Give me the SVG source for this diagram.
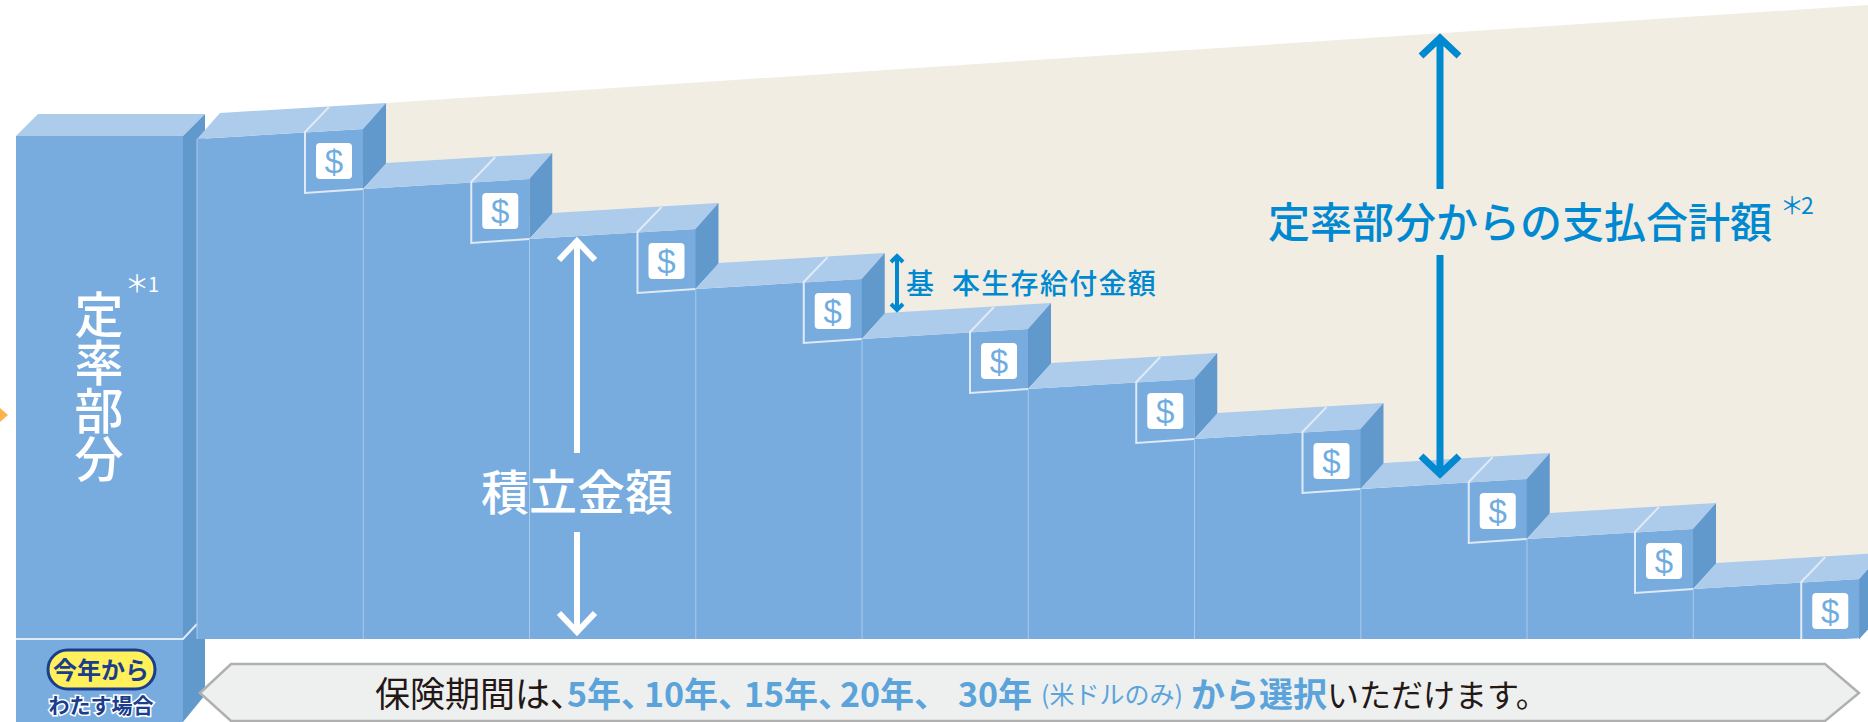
<svg xmlns="http://www.w3.org/2000/svg" width="1868" height="722" viewBox="0 0 1868 722">
<style>
.front{fill:#78acdf}.top{fill:#adcbeb}.side{fill:#6299cc}
.sep{stroke:#a9c9ea;stroke-width:1;fill:none}
.edge{stroke:#dfeaf6;stroke-width:2;fill:none}
.ico{fill:#fff}
.dollar{font-family:"Liberation Sans",sans-serif;font-size:33px;fill:#6fade0;text-anchor:middle}
.jp{font-family:"Noto Sans CJK JP","Noto Sans",sans-serif}
.bl{fill:#0089d0}.wh{fill:#fff}.bk{fill:#231815}.lb{fill:#5ba3db;font-weight:700}
.m{font-weight:500}
.p{font-feature-settings:"palt"}
.warrow{stroke:#fff;stroke-width:6;fill:none;stroke-linecap:butt}
.barrow{stroke:#0089d0;stroke-width:7;fill:none}
.sarrow{stroke:#0089d0;stroke-width:4;fill:none}
</style>
<defs>
<g id="cube">
<path class="top" d="M0 0L23-26L189-36L166-10L0 0Z"/>
<path class="side" d="M166-10L189-36L189 25L166 50Z"/>
<path class="edge" d="M132-32L108-7V54L166 50"/>
<path class="sep" d="M0 0V500"/>
<rect class="ico" x="119" y="4" width="36" height="36" rx="4"/>
<text class="dollar" x="137" y="34">$</text>
</g>
</defs>
<polygon fill="#f1ede3" points="386,103 1868,5 1868,620 386,175"/>
<polygon points="0,408 8,415 0,422" fill="#fdb24b"/>
<g id="left-pillar">
<rect class="front" x="16" y="136" width="167" height="586"/>
<polygon class="top" points="16,136 38,114 205,114 183,136"/>
<polygon class="side" points="183,136 205,114 205,695 183,722"/>
<path class="edge" d="M16 639H183L197 624"/>
</g>
<g id="blocks">
<g id="col0"><polygon class="front" points="197,139 363,129 363,639 197,639"/></g>
<g id="col1"><polygon class="front" points="363,189 529,179 529,639 363,639"/></g>
<g id="col2"><polygon class="front" points="529,239 696,229 696,639 529,639"/></g>
<g id="col3"><polygon class="front" points="696,289 862,279 862,639 696,639"/></g>
<g id="col4"><polygon class="front" points="862,339 1028,329 1028,639 862,639"/></g>
<g id="col5"><polygon class="front" points="1028,389 1194,379 1194,639 1028,639"/></g>
<g id="col6"><polygon class="front" points="1194,439 1361,429 1361,639 1194,639"/></g>
<g id="col7"><polygon class="front" points="1361,489 1527,479 1527,639 1361,639"/></g>
<g id="col8"><polygon class="front" points="1527,539 1693,529 1693,639 1527,639"/></g>
<g id="col9"><polygon class="front" points="1693,589 1860,579 1860,639 1693,639"/></g>
<clipPath id="cl"><rect x="0" y="0" width="1868" height="639"/></clipPath>
<g clip-path="url(#cl)">
<use href="#cube" x="197" y="139"/>
<use href="#cube" x="363.25" y="189"/>
<use href="#cube" x="529.5" y="239"/>
<use href="#cube" x="695.75" y="289"/>
<use href="#cube" x="862" y="339"/>
<use href="#cube" x="1028.25" y="389"/>
<use href="#cube" x="1194.5" y="439"/>
<use href="#cube" x="1360.75" y="489"/>
<use href="#cube" x="1527" y="539"/>
<use href="#cube" x="1693.25" y="589"/>
</g>
</g>
<g id="period-band">
<polygon fill="#eef0ef" stroke="#b0b0b0" stroke-width="2.5" points="200,693 231,664 1825,664 1859,693 1825,721 231,721"/>
<text class="jp bk" x="375" y="707" font-size="35">保険期間は<tspan class="p">、</tspan></text>
<text class="jp lb" y="707" font-size="34"><tspan x="567">5年<tspan class="p">、</tspan></tspan><tspan x="644">10年<tspan class="p">、</tspan></tspan><tspan x="744">15年<tspan class="p">、</tspan></tspan><tspan x="840">20年、</tspan><tspan x="958">30年</tspan></text>
<text class="jp lb" x="1041" y="704" font-size="25" style="font-weight:400">(米ドルのみ)</text>
<text class="jp lb" x="1191" y="707" font-size="34">から選択</text>
<text class="jp bk" x="1327" y="707" font-size="32">いただけます。</text>
</g>
<g id="badge">
<rect x="48" y="650" width="107" height="39" rx="19.5" fill="#fff05c" stroke="#1a3d8c" stroke-width="3"/>
<text class="jp" x="101" y="679" font-size="24" font-weight="700" fill="#1a3d8c" text-anchor="middle">今年から</text>
<text class="jp" x="101" y="713" font-size="21" font-weight="700" fill="#1a3d8c" stroke="#fff" stroke-width="3" paint-order="stroke" text-anchor="middle">わたす場合</text>
</g>
<g id="labels">
<text class="jp wh m" font-size="49" x="99" y="290" style="writing-mode:vertical-rl;letter-spacing:-1px">定率部分</text>
<text class="jp wh" x="125" y="292" font-size="24">＊<tspan font-size="20" x="148">1</tspan></text>
<text class="jp wh m" x="577" y="510" font-size="48" text-anchor="middle">積立金額</text>
<text class="jp bl m" x="1268" y="238" font-size="42">定率部分からの支払合計額</text>
<text class="jp bl" x="1780" y="214" font-size="24">＊<tspan x="1801" font-size="23">2</tspan></text>
<text class="jp bl m" x="906" y="294" font-size="28">基<tspan x="952" letter-spacing="1.3">本生存給付金額</tspan></text>
</g>
<g id="connectors">
<path class="warrow" d="M577 453V241M559 260L577 241L595 260"/>
<path class="warrow" d="M577 532V632M559 613L577 632L595 613"/>
<path class="barrow" d="M1440 189V38M1421 56L1440 38L1459 56"/>
<path class="barrow" d="M1440 255V474M1421 456L1440 474L1459 456"/>
<path class="sarrow" d="M897 256V310M891 262L897 256L903 262M891 304L897 310L903 304"/>
</g>
</svg>
